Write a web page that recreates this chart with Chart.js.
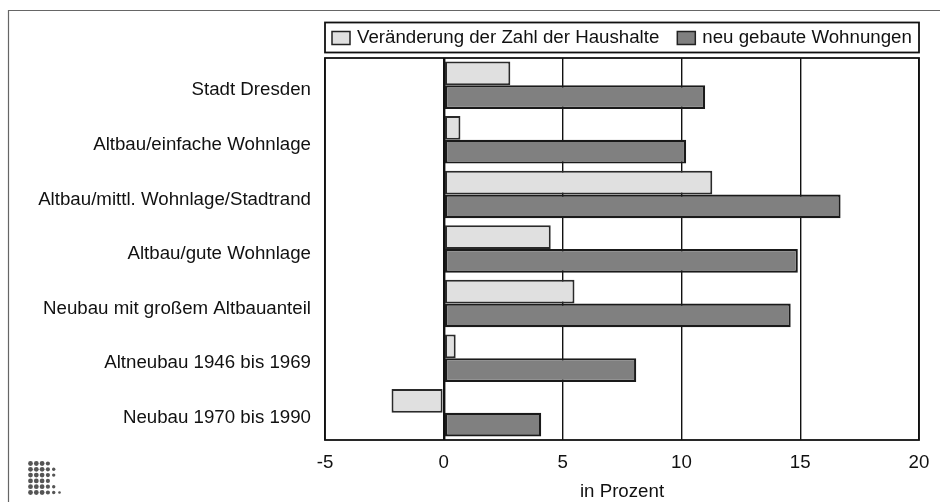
<!DOCTYPE html>
<html lang="de">
<head>
<meta charset="utf-8">
<title>Haushalte und neu gebaute Wohnungen</title>
<script src="https://cdn.jsdelivr.net/npm/chart.js@4/dist/chart.umd.min.js"></script>
<style>
    html, body { margin: 0; padding: 0; background: #fff; }
    #wrap { width: 940px; height: 502px; }
</style>
</head>
<body>
<div id="wrap"><canvas id="chart" width="940" height="502"></canvas></div>
<script>
// Daten (in Prozent)
const kategorien = [
    'Stadt Dresden',
    'Altbau/einfache Wohnlage',
    'Altbau/mittl. Wohnlage/Stadtrand',
    'Altbau/gute Wohnlage',
    'Neubau mit großem Altbauanteil',
    'Altneubau 1946 bis 1969',
    'Neubau 1970 bis 1990'
];
const haushalte = [2.8, 0.7, 11.3, 4.5, 5.5, 0.5, -2.2];
const wohnungen = [11.0, 10.2, 16.7, 14.9, 14.6, 8.1, 4.1];
const xTicks = [-5, 0, 5, 10, 15, 20];

const schrift = '"Liberation Sans", Arial, Helvetica, sans-serif';
const groesse = 18.7;

// Rahmen, Legende und Logo werden selbst gezeichnet
const rahmenPlugin = {
    id: 'rahmen',
    beforeDraw(chart) {
        const ctx = chart.ctx;
        ctx.save();
        ctx.fillStyle = '#fff';
        ctx.fillRect(0, 0, chart.width, chart.height);
        ctx.strokeStyle = '#666';
        ctx.lineWidth = 1.2;
        ctx.beginPath();
        ctx.moveTo(8.5, chart.height);
        ctx.lineTo(8.5, 10.5);
        ctx.lineTo(chart.width, 10.5);
        ctx.stroke();

        // Logo unten links
        const reihen = [4, 5, 5, 4, 5, 6];
        const radien = [2.4, 2.4, 2.4, 2.1, 1.7, 1.3];
        ctx.fillStyle = '#555';
        reihen.forEach((anzahl, r) => {
            for (let c = 0; c < anzahl; c++) {
                ctx.beginPath();
                ctx.arc(30.5 + c * 5.8, 463.5 + r * 5.8, radien[c], 0, Math.PI * 2);
                ctx.fill();
            }
        });
        ctx.restore();
    },
    afterDraw(chart) {
        const ctx = chart.ctx;
        const a = chart.chartArea;
        ctx.save();
        // Rahmen um den Plotbereich
        ctx.strokeStyle = '#111';
        ctx.lineWidth = 1.8;
        ctx.strokeRect(a.left, a.top, a.right - a.left, a.bottom - a.top);

        // Legende
        const lTop = 22.5, lBottom = 52.5;
        ctx.strokeRect(a.left, lTop, a.right - a.left, lBottom - lTop);
        ctx.font = groesse + 'px ' + schrift;
        ctx.textBaseline = 'middle';
        ctx.textAlign = 'left';
        const mitte = (lTop + lBottom) / 2 + 0.5;
        let x = a.left + 7;
        chart.data.datasets.forEach((ds, i) => {
            ctx.fillStyle = ds.backgroundColor;
            ctx.fillRect(x, mitte - 6.5, 18, 13);
            ctx.lineWidth = 1.5;
            ctx.strokeStyle = '#222';
            ctx.strokeRect(x, mitte - 6.5, 18, 13);
            ctx.fillStyle = '#111';
            ctx.fillText(ds.label, x + 25, mitte);
            x += 25 + ctx.measureText(ds.label).width + 18;
        });
        ctx.restore();
    }
};

const ctx = document.getElementById('chart');

new Chart(ctx, {
    type: 'bar',
    data: {
        labels: kategorien,
        datasets: [
            {
                label: 'Veränderung der Zahl der Haushalte',
                data: haushalte,
                backgroundColor: '#e0e0e0',
                borderColor: '#2a2a2a',
                borderWidth: 2,
                borderSkipped: false
            },
            {
                label: 'neu gebaute Wohnungen',
                data: wohnungen,
                backgroundColor: '#808080',
                borderColor: '#1a1a1a',
                borderWidth: 2.2,
                borderSkipped: false
            }
        ]
    },
    options: {
        indexAxis: 'y',
        responsive: false,
        animation: false,
        devicePixelRatio: 1,
        categoryPercentage: 0.87,
        barPercentage: 1.0,
        layout: {
            padding: { top: 58, right: 21, left: 0, bottom: 0 }
        },
        plugins: {
            legend: { display: false },
            tooltip: { enabled: false }
        },
        scales: {
            x: {
                type: 'linear',
                min: -5,
                max: 20,
                afterBuildTicks: function(axis) {
                    axis.ticks = xTicks.map(v => ({ value: v }));
                },
                afterFit: function(axis) {
                    axis.height = 62;
                    axis.paddingLeft = 0;
                    axis.paddingRight = 0;
                },
                grid: {
                    color: '#111',
                    lineWidth: function(c) {
                        return c.tick && c.tick.value === 0 ? 2.4 : 1.4;
                    },
                    drawTicks: false
                },
                border: { display: false },
                ticks: {
                    color: '#111',
                    padding: 12,
                    font: { family: schrift, size: groesse }
                },
                title: {
                    display: true,
                    text: 'in Prozent',
                    color: '#111',
                    padding: { top: 0, bottom: -1.5 },
                    font: { family: schrift, size: groesse }
                }
            },
            y: {
                afterFit: function(axis) {
                    axis.width = 325;
                },
                grid: { display: false, drawTicks: false },
                border: { display: false },
                ticks: {
                    color: '#111',
                    padding: 14,
                    labelOffset: 5,
                    font: { family: schrift, size: groesse }
                }
            }
        }
    },
    plugins: [rahmenPlugin]
});
</script>
</body>
</html>
